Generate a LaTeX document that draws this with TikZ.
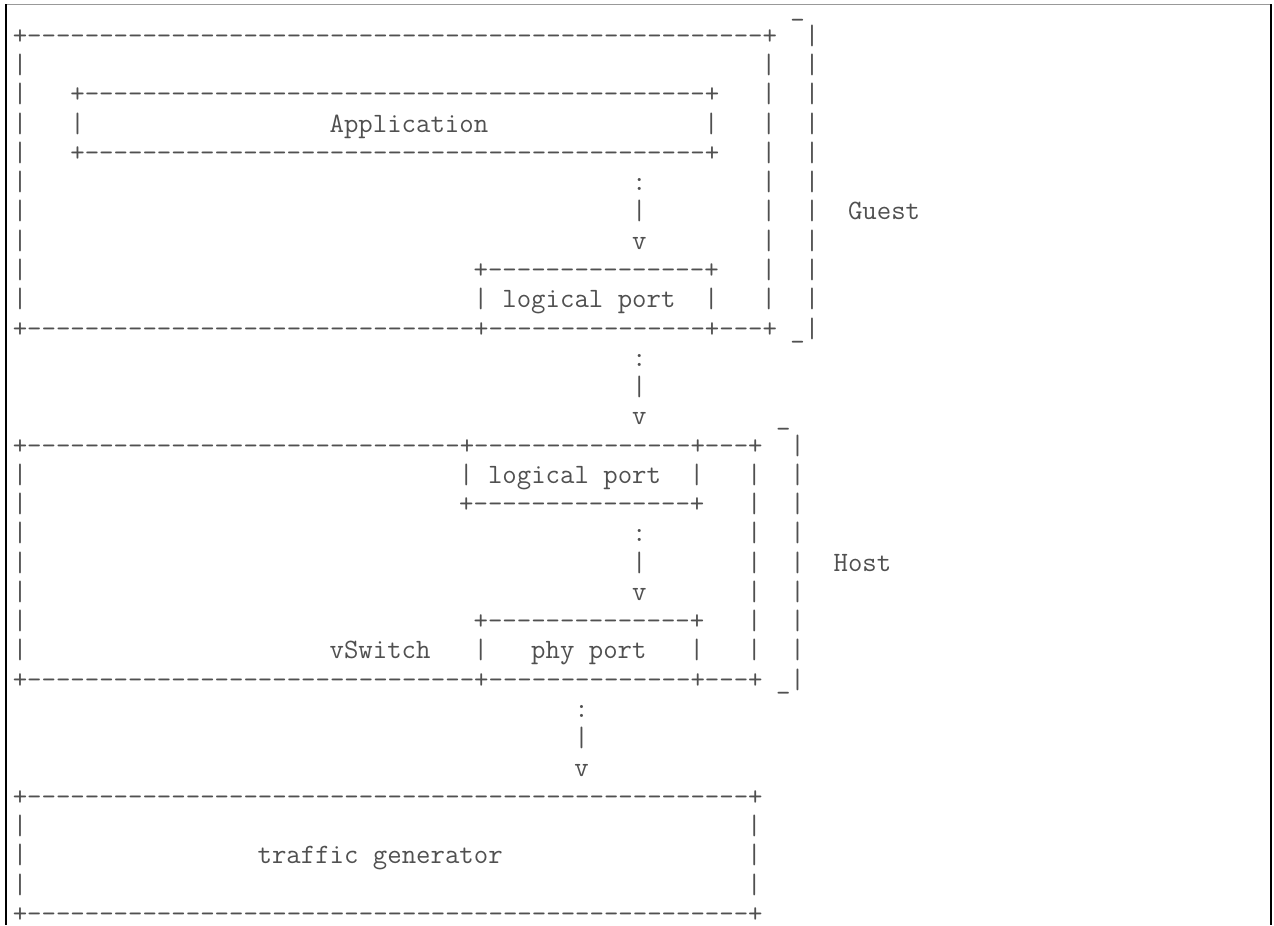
\documentclass[tikz,border=0pt]{standalone}
\usepackage{fontspec}
\usepackage{tikz}

\definecolor{ink}{HTML}{505050}
\newcommand{\dsh}[1]{\foreach \k in {1,...,#1}{-}}

\begin{document}
\begin{tikzpicture}[x=10.8pt,y=-21.95pt,
  asc/.style={font=\fontsize{21}{22}\selectfont\ttfamily, text=ink,
    anchor=base west, inner sep=0pt, outer sep=0pt}]
\useasboundingbox (0pt,0pt) rectangle (955.5pt,-693.75pt);
% frame
\draw[gray!80, line width=1.1pt] (4.5pt,-3.4pt) -- (953.25pt,-3.4pt);
\draw[line width=1.1pt] (4.5pt,-3pt) -- (4.5pt,-693.75pt);
\draw[line width=1.1pt] (953.25pt,-3pt) -- (953.25pt,-693.75pt);

\begin{scope}[shift={(9.6pt,-11.3pt)}]
% Guest
\foreach \r/\c/\t in {
  0/54/\_,
  1/0/+\dsh{51}+, 1/55/|,
  2/0/|, 2/52/|, 2/55/|,
  3/0/|, 3/4/+\dsh{43}+, 3/52/|, 3/55/|,
  4/0/|, 4/4/|, 4/22/Application, 4/48/|, 4/52/|, 4/55/|,
  5/0/|, 5/4/+\dsh{43}+, 5/52/|, 5/55/|,
  6/0/|, 6/43/:, 6/52/|, 6/55/|,
  7/0/|, 7/43/|, 7/52/|, 7/55/|, 7/58/Guest,
  8/0/|, 8/43/v, 8/52/|, 8/55/|,
  9/0/|, 9/32/+\dsh{15}+, 9/52/|, 9/55/|,
  10/0/|, 10/32/|, 10/34/logical port, 10/48/|, 10/52/|, 10/55/|,
  11/0/+\dsh{31}+\dsh{15}+\dsh{3}+, 11/54/\_|}
  \node[asc] (r\r-\c) at (\c,\r) {\t};
% Host
\foreach \r/\c/\t in {
  12/43/:, 13/43/|, 14/43/v, 14/53/\_,
  15/0/+\dsh{30}+\dsh{15}+\dsh{3}+, 15/54/|,
  16/0/|, 16/31/|, 16/33/logical port, 16/47/|, 16/51/|, 16/54/|,
  17/0/|, 17/31/+\dsh{15}+, 17/51/|, 17/54/|,
  18/0/|, 18/43/:, 18/51/|, 18/54/|,
  19/0/|, 19/43/|, 19/51/|, 19/54/|, 19/57/Host,
  20/0/|, 20/43/v, 20/51/|, 20/54/|,
  21/0/|, 21/32/+\dsh{14}+, 21/51/|, 21/54/|,
  22/0/|, 22/22/vSwitch, 22/32/|, 22/36/phy port, 22/47/|, 22/51/|, 22/54/|,
  23/0/+\dsh{31}+\dsh{14}+\dsh{3}+, 23/53/\_|}
  \node[asc] (r\r-\c) at (\c,\r) {\t};
% traffic generator
\foreach \r/\c/\t in {
  24/39/:, 25/39/|, 26/39/v,
  27/0/+\dsh{50}+,
  28/0/|, 28/51/|,
  29/0/|, 29/17/traffic generator, 29/51/|,
  30/0/|, 30/51/|,
  31/0/+\dsh{50}+}
  \node[asc] (r\r-\c) at (\c,\r) {\t};
\end{scope}
\end{tikzpicture}
\end{document}
